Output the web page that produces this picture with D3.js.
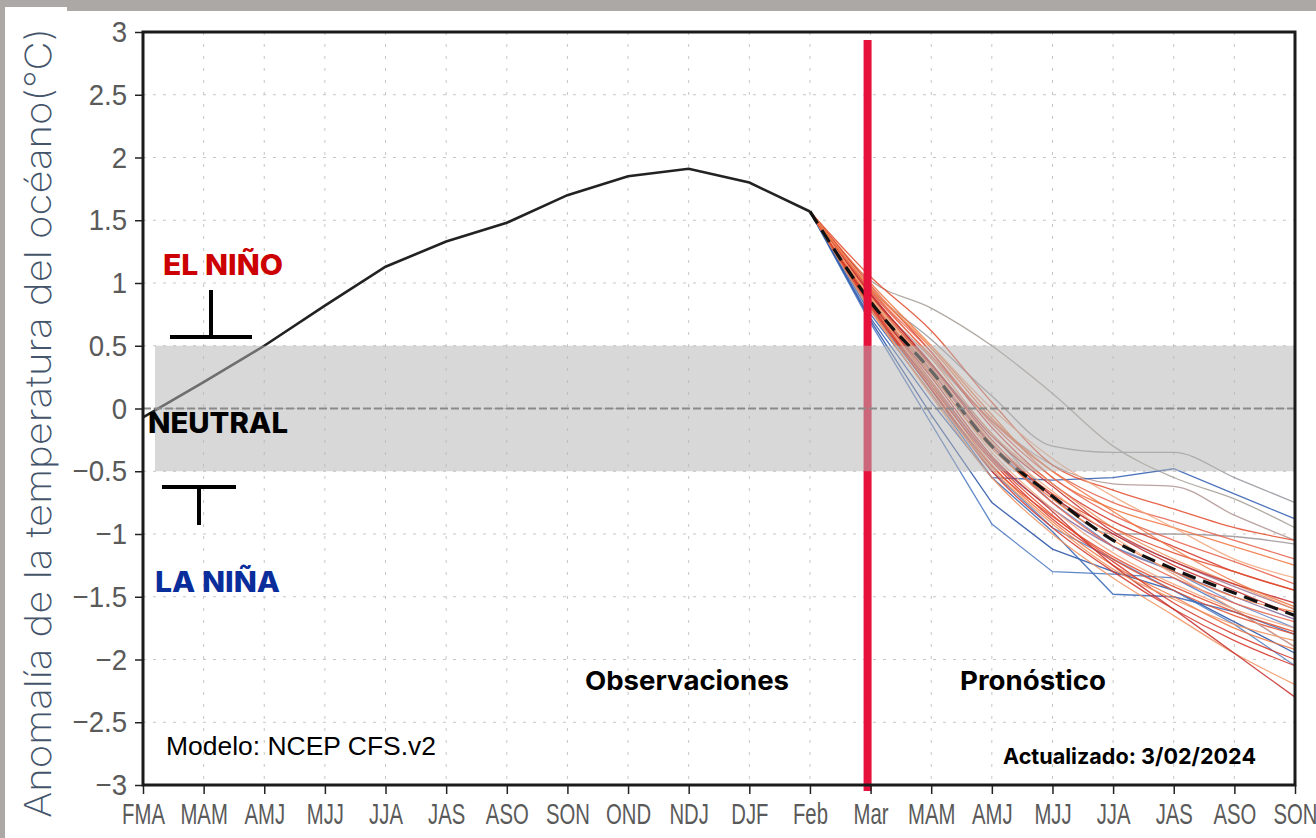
<!DOCTYPE html>
<html lang="es">
  <head>
    <meta charset="utf-8">
    <title>Anomalía ENSO - CFS.v2</title>
    <script src="https://d3js.org/d3.v7.min.js"></script>
    <style>
      body { margin: 0; background: #fff; }
      svg { display: block; }
    </style>
  </head>
  <body>
    <div id="chart"></div>
    <script type="text/javascript">
      // season labels along the x axis (index 0..19)
      const months = ["FMA", "MAM", "AMJ", "MJJ", "JJA", "JAS", "ASO", "SON", "OND", "NDJ",
                      "DJF", "Feb", "Mar", "MAM", "AMJ", "MJJ", "JJA", "JAS", "ASO", "SON"];
      const yTicks = [-3, -2.5, -2, -1.5, -1, -0.5, 0, 0.5, 1, 1.5, 2, 2.5, 3];
      const yTickLabels = ["\u22123", "\u22122.5", "\u22122", "\u22121.5", "\u22121", "\u22120.5",
                           "0", "0.5", "1", "1.5", "2", "2.5", "3"];

      // observed anomaly, FMA .. Feb (index 0..11)
      const observed = [-0.07, 0.21, 0.5, 0.82, 1.13, 1.33, 1.48, 1.70, 1.85, 1.91, 1.80, 1.57];
      // forecast values are for Mar .. SON (index 12..19)
      const ensembleMean = [0.85, 0.3, -0.3, -0.7, -1.05, -1.28, -1.47, -1.65];

      const blueMembers = [
        [0.72, 0.05, -0.55, -0.57, -0.55, -0.48, -0.68, -0.88],
        [0.68, -0.12, -0.92, -1.3, -1.32, -1.35, -1.6, -1.9],
        [0.70, -0.05, -0.75, -1.12, -1.3, -1.45, -1.7, -1.95],
        [0.78, 0.15, -0.5, -0.95, -1.2, -1.45, -1.72, -2.05],
        [0.75, 0.12, -0.55, -0.98, -1.48, -1.5, -1.62, -1.8],
        [0.82, 0.3, -0.3, -0.75, -1.1, -1.3, -1.55, -1.75]
      ];
      const grayMembers = [
        [1.02, 0.8, 0.5, 0.12, -0.3, -0.55, -0.72, -0.95],
        [0.95, 0.55, 0.1, -0.3, -0.35, -0.35, -0.55, -0.75],
        [0.9, 0.4, -0.1, -0.45, -0.6, -0.62, -0.85, -1.05],
        [0.88, 0.35, -0.2, -0.7, -1.0, -1.0, -1.02, -1.08],
        [0.8, 0.2, -0.4, -0.8, -1.1, -1.3, -1.5, -1.68],
        [0.86, 0.3, -0.3, -0.7, -1.0, -1.22, -1.42, -1.6]
      ];
      const redMembers = [
        [1.05, 0.62, 0.05, -0.45, -0.65, -0.8, -0.95, -1.05],
        [1.0, 0.5, -0.05, -0.55, -0.8, -0.95, -1.1, -1.25],
        [0.98, 0.45, -0.15, -0.6, -0.9, -1.1, -1.3, -1.45],
        [0.95, 0.4, -0.2, -0.6, -0.95, -1.2, -1.4, -1.6],
        [0.92, 0.35, -0.25, -0.7, -1.0, -1.25, -1.45, -1.65],
        [0.9, 0.3, -0.3, -0.75, -1.1, -1.35, -1.55, -1.7],
        [0.88, 0.28, -0.35, -0.8, -1.15, -1.4, -1.6, -1.75],
        [0.86, 0.22, -0.4, -0.85, -1.2, -1.45, -1.65, -1.8],
        [0.84, 0.2, -0.45, -0.9, -1.25, -1.5, -1.75, -1.92],
        [0.82, 0.15, -0.5, -0.95, -1.3, -1.6, -1.85, -2.05],
        [0.8, 0.1, -0.55, -1.0, -1.35, -1.65, -1.95, -2.2],
        [0.85, 0.25, -0.38, -0.82, -1.25, -1.6, -1.95, -2.3],
        [0.93, 0.42, -0.1, -0.5, -0.75, -0.9, -1.05, -1.2],
        [0.97, 0.5, 0.0, -0.4, -0.7, -0.95, -1.2, -1.35],
        [0.9, 0.33, -0.28, -0.68, -0.95, -1.15, -1.3, -1.45],
        [0.87, 0.27, -0.32, -0.72, -1.05, -1.3, -1.5, -1.62],
        [0.83, 0.18, -0.42, -0.88, -1.22, -1.55, -1.8, -2.0],
        [0.78, 0.12, -0.48, -0.92, -1.28, -1.52, -1.72, -1.85],
        [0.91, 0.36, -0.22, -0.62, -0.98, -1.22, -1.4, -1.55],
        [0.94, 0.45, -0.12, -0.55, -0.85, -1.05, -1.22, -1.4],
        [0.89, 0.32, -0.26, -0.66, -1.02, -1.32, -1.6, -1.9],
        [0.81, 0.16, -0.46, -0.86, -1.18, -1.42, -1.62, -1.78],
        [0.96, 0.48, -0.08, -0.5, -0.82, -1.12, -1.38, -1.58]
      ];

      const blueColors = ["#3a64b4", "#4f7cc4", "#2f58a8", "#5a88c8", "#3c6cb8", "#6a8cc8"];
      const grayColors = ["#a8a29a", "#9a9aa2", "#b49a98", "#a0989c", "#8a70a0", "#a07a9a"];
      const redColors = ["#e24a2a", "#ee7440", "#d33428", "#f0905e", "#c42c2a", "#e6604a", "#f2a67e"];

      const W = 1316, H = 838;
      const svg = d3.select("#chart").append("svg")
        .attr("width", W).attr("height", H);

      // page background (gray border of the original screenshot)
      svg.append("rect").attr("width", W).attr("height", H).attr("fill", "#aca8a6");
      svg.append("rect").attr("x", 5).attr("y", 7).attr("width", 62).attr("height", H - 7).attr("fill", "#fff");
      svg.append("rect").attr("x", 67).attr("y", 11).attr("width", W - 67).attr("height", H - 11).attr("fill", "#fff");

      const x = d3.scaleLinear().domain([0, 19]).range([143, 1295]);
      const y = d3.scaleLinear().domain([-3, 3]).range([785, 32]);

      // grid
      const grid = svg.append("g");
      grid.selectAll(".hg").data(yTicks.slice(1, -1)).enter().append("line")
        .attr("x1", x(0)).attr("x2", x(19))
        .attr("y1", d => y(d)).attr("y2", d => y(d))
        .attr("stroke", "#c6c6c6").attr("stroke-dasharray", "3,7");
      grid.selectAll(".vg").data(d3.range(1, 19)).enter().append("line")
        .attr("x1", d => x(d)).attr("x2", d => x(d))
        .attr("y1", y(3)).attr("y2", y(-3))
        .attr("stroke", "#c6c6c6").attr("stroke-dasharray", "3,9");

      const line = d3.line().x(d => x(d[0])).y(d => y(d[1]));
      const smooth = d3.line().x(d => x(d[0])).y(d => y(d[1])).curve(d3.curveMonotoneX);
      const lastObs = observed[observed.length - 1];
      const toPoints = vals => [[11, lastObs]].concat(vals.map((v, i) => [12 + i, v]));

      // ensemble members
      const members = svg.append("g").attr("fill", "none").attr("stroke-width", 1.3);
      grayMembers.forEach((m, i) => {
        members.append("path").attr("d", smooth(toPoints(m)))
          .attr("stroke", grayColors[i % grayColors.length]).attr("opacity", 0.9);
      });
      blueMembers.forEach((m, i) => {
        members.append("path").attr("d", line(toPoints(m)))
          .attr("stroke", blueColors[i % blueColors.length]).attr("opacity", 0.9);
      });
      redMembers.forEach((m, i) => {
        members.append("path").attr("d", smooth(toPoints(m)))
          .attr("stroke", redColors[i % redColors.length]).attr("opacity", 0.85);
      });

      // ensemble mean
      svg.append("path").attr("d", smooth(toPoints(ensembleMean)))
        .attr("fill", "none").attr("stroke", "#111").attr("stroke-width", 3.2)
        .attr("stroke-dasharray", "14,8");

      // observations
      svg.append("path").attr("d", line(observed.map((v, i) => [i, v])))
        .attr("fill", "none").attr("stroke", "#222").attr("stroke-width", 2.6);

      // red divider between observations and forecast
      svg.append("line")
        .attr("x1", x(12) - 3).attr("x2", x(12) - 3)
        .attr("y1", 40).attr("y2", 791)
        .attr("stroke", "#e6123c").attr("stroke-width", 8);

      // neutral band overlay
      svg.append("rect")
        .attr("x", 155).attr("y", y(0.5))
        .attr("width", x(19) - 155).attr("height", y(-0.5) - y(0.5))
        .attr("fill", "#b4b4b4").attr("opacity", 0.52);

      // zero line
      svg.append("line")
        .attr("x1", x(0)).attr("x2", x(19)).attr("y1", y(0)).attr("y2", y(0))
        .attr("stroke", "#8a8a8a").attr("stroke-width", 2).attr("stroke-dasharray", "8,3");

      // axes
      const yAxis = d3.axisLeft(y).tickValues(yTicks).tickSize(8).tickPadding(8)
        .tickFormat((d, i) => yTickLabels[i]);
      const gy = svg.append("g").attr("transform", "translate(143,0)").call(yAxis);
      gy.select(".domain").remove();
      gy.selectAll("line").attr("stroke", "#222").attr("stroke-width", 1.5);
      gy.selectAll("text")
        .attr("font-family", "'Liberation Sans', Arial, sans-serif")
        .attr("font-size", 30).attr("fill", "#5a5a5a")
        .attr("x", -16 / 0.92).attr("transform", "scale(0.92,1)");

      const xAxis = d3.axisBottom(x).tickValues(d3.range(0, 20)).tickSize(9).tickPadding(9)
        .tickFormat(d => months[d]);
      const gx = svg.append("g").attr("transform", "translate(0,785)").call(xAxis);
      gx.select(".domain").remove();
      gx.selectAll("line").attr("stroke", "#222").attr("stroke-width", 1.5);
      gx.selectAll("text")
        .attr("font-family", "'Liberation Sans', Arial, sans-serif")
        .attr("font-size", 29).attr("fill", "#5a5a5a")
        .attr("transform", "scale(0.7,1)");

      // frame
      svg.append("rect")
        .attr("x", x(0)).attr("y", y(3))
        .attr("width", x(19) - x(0)).attr("height", y(-3) - y(3))
        .attr("fill", "none").attr("stroke", "#1a1a1a").attr("stroke-width", 3);

      // y title
      svg.append("text")
        .attr("transform", "translate(51,423) rotate(-90)")
        .attr("text-anchor", "middle")
        .attr("font-family", "Inter, 'Open Sans', sans-serif")
        .attr("font-weight", 200).attr("font-size", 36)
        .attr("fill", "#44546a")
        .attr("textLength", 790).attr("lengthAdjust", "spacingAndGlyphs")
        .text("Anomalía  de la temperatura del océano(°C)");

      // annotations
      const label = (txt, x0, base, w, size, color, weight, fam) => svg.append("text")
        .attr("x", x0).attr("y", base)
        .attr("font-family", fam || "Inter, 'Open Sans', sans-serif")
        .attr("font-weight", weight).attr("font-size", size).attr("fill", color)
        .attr("textLength", w).attr("lengthAdjust", "spacingAndGlyphs")
        .text(txt);

      label("EL NIÑO", 163, 275, 120, 28, "#cc0000", 800);
      label("NEUTRAL", 148, 433, 140, 28, "#000", 800);
      label("LA NIÑA", 155, 592, 125, 29, "#0a2d9c", 800);
      label("Observaciones", 585, 690, 204, 26, "#000", 700);
      label("Pronóstico", 960, 690, 146, 26, "#000", 700);
      label("Actualizado: 3/02/2024", 1003, 764, 253, 22, "#000", 700);
      label("Modelo: NCEP CFS.v2", 166, 755, 270, 25, "#000", 400, "'Liberation Sans', Arial, sans-serif");

      // El Niño / La Niña threshold markers
      const mark = svg.append("g").attr("stroke", "#000").attr("stroke-width", 4);
      mark.append("line").attr("x1", 211).attr("x2", 211).attr("y1", 290).attr("y2", 337);
      mark.append("line").attr("x1", 170).attr("x2", 252).attr("y1", 337).attr("y2", 337);
      mark.append("line").attr("x1", 162).attr("x2", 236).attr("y1", 487).attr("y2", 487);
      mark.append("line").attr("x1", 199).attr("x2", 199).attr("y1", 487).attr("y2", 525);
    </script>
  </body>
</html>
